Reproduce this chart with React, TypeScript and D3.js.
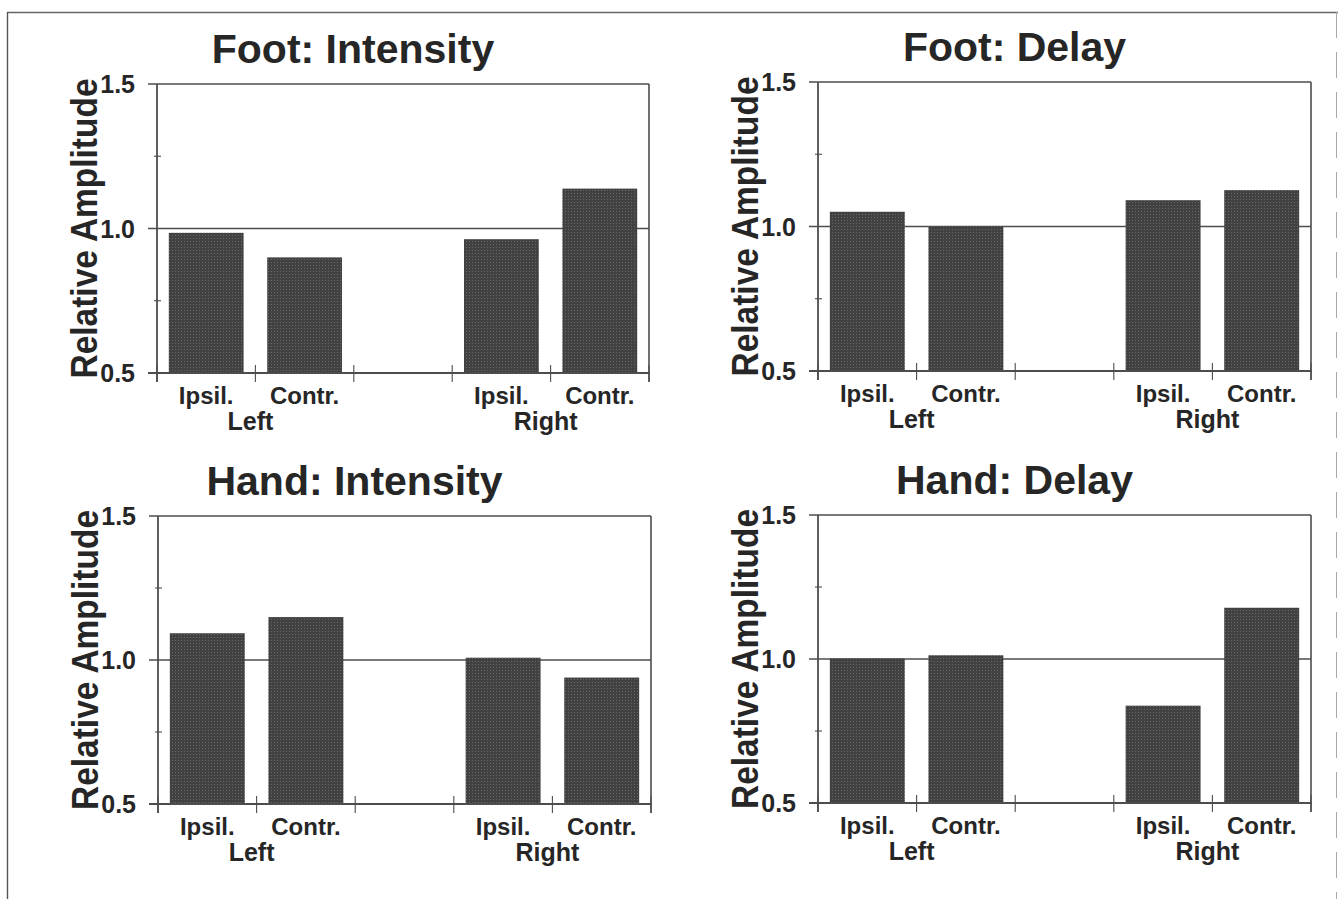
import React from "react";
import * as d3 from "d3";

// Bar groups: two sides, each with ipsilateral / contralateral stimulation
const sides = ["Left", "Right"];
const conditions = ["Ipsil.", "Contr."];
// Band slots: two bars, an empty spacer, two bars
const slots = ["L-Ipsil", "L-Contr", "gap", "R-Ipsil", "R-Contr"];
const barSlots = ["L-Ipsil", "L-Contr", "R-Ipsil", "R-Contr"];

const panelTitles = ["Foot: Intensity", "Foot: Delay", "Hand: Intensity", "Hand: Delay"];

// Relative amplitude per bar (Left Ipsil, Left Contr, Right Ipsil, Right Contr)
const footIntensity = [0.985, 0.9, 0.963, 1.138];
const footDelay = [1.051, 1.0, 1.091, 1.126];
const handIntensity = [1.093, 1.149, 1.008, 0.939];
const handDelay = [1.002, 1.013, 0.838, 1.178];

const yDomain = [0.5, 1.5];
const yMajorTicks = [0.5, 1.0, 1.5];
const yMinorTicks = [0.75, 1.25];
const referenceLevel = 1.0;
const yAxisLabel = "Relative Amplitude";

const panelValues = [footIntensity, footDelay, handIntensity, handDelay];

// Plot frames (left, right, top, bottom) for the 2x2 grid
const frames = [
  { x0: 157, x1: 649, y0: 84, y1: 373 },
  { x0: 818, x1: 1311, y0: 82, y1: 371 },
  { x0: 158, x1: 651, y0: 516, y1: 804 },
  { x0: 818, x1: 1311, y0: 515, y1: 803 },
];

const FONT = "'Liberation Sans', Arial, Helvetica, sans-serif";
const INK = "#262626";
const AXIS = "#4d4d4d";

function Panel({ title, values, frame }) {
  const { x0, x1, y0, y1 } = frame;
  const x = d3
    .scaleBand()
    .domain(slots)
    .range([x0, x1])
    .paddingInner(0.24)
    .paddingOuter(0.12);
  const y = d3.scaleLinear().domain(yDomain).range([y1, y0]);
  const step = x.step();
  const boundaries = d3.range(slots.length + 1).map((i) => x0 + i * step);
  const cx = (x0 + x1) / 2;
  const cy = (y0 + y1) / 2;

  return (
    <g>
      <text
        x={cx - 50}
        y={y0 - 21.5}
        textAnchor="middle"
        fontFamily={FONT}
        fontWeight="bold"
        fontSize={41}
        fill={INK}
      >
        {title}
      </text>

      {/* reference line at 1.0, extending over the tick mark */}
      <line x1={x0 - 9} x2={x1} y1={y(referenceLevel)} y2={y(referenceLevel)} stroke={AXIS} strokeWidth={1.6} />

      {values.map((v, i) => (
        <rect
          key={barSlots[i]}
          x={x(barSlots[i])}
          width={x.bandwidth()}
          y={y(v)}
          height={y(yDomain[0]) - y(v)}
          fill="url(#halftone)"
        />
      ))}

      {/* plot frame */}
      <line x1={x0 - 9} x2={x1} y1={y0} y2={y0} stroke={AXIS} strokeWidth={1.6} />
      <line x1={x0 - 9} x2={x1 + 1} y1={y1} y2={y1} stroke={AXIS} strokeWidth={1.8} />
      <line x1={x0} x2={x0} y1={y0} y2={y1 + 9} stroke={AXIS} strokeWidth={1.8} />
      <line x1={x1} x2={x1} y1={y0} y2={y1 + 9} stroke={AXIS} strokeWidth={1.6} />

      {/* category boundary ticks */}
      {boundaries.map((bx, i) => (
        <line key={"b" + i} x1={bx} x2={bx} y1={y1 - 8} y2={y1 + 9} stroke={AXIS} strokeWidth={1.1} />
      ))}

      {/* minor y ticks */}
      {yMinorTicks.map((t) => (
        <line key={"m" + t} x1={x0 - 3} x2={x0 + 4} y1={y(t)} y2={y(t)} stroke={AXIS} strokeWidth={1.1} />
      ))}

      {/* y tick labels */}
      {yMajorTicks.map((t) => (
        <text
          key={"t" + t}
          x={x0 - 22}
          y={y(t)}
          dy="0.36em"
          textAnchor="end"
          fontFamily={FONT}
          fontWeight="bold"
          fontSize={25}
          fill={INK}
        >
          {d3.format(".1f")(t)}
        </text>
      ))}

      {/* y axis title */}
      <text
        transform={`translate(${x0 - 60},${cy}) rotate(-90)`}
        textAnchor="middle"
        fontFamily={FONT}
        fontWeight="bold"
        fontSize={37}
        textLength={300}
        lengthAdjust="spacingAndGlyphs"
        fill={INK}
      >
        {yAxisLabel}
      </text>

      {/* bar labels */}
      {barSlots.map((s, i) => (
        <text
          key={"c" + s}
          x={(x(s) as number) + x.bandwidth() / 2}
          y={y1 + 31}
          textAnchor="middle"
          fontFamily={FONT}
          fontWeight="bold"
          fontSize={24}
          fill={INK}
        >
          {conditions[i % 2]}
        </text>
      ))}

      {/* side labels */}
      {sides.map((side, i) => (
        <text
          key={side}
          x={boundaries[i === 0 ? 1 : 4] - 5}
          y={y1 + 57}
          textAnchor="middle"
          fontFamily={FONT}
          fontWeight="bold"
          fontSize={25}
          fill={INK}
        >
          {side}
        </text>
      ))}
    </g>
  );
}

export default function App() {
  return (
    <svg
      width={1338}
      height={899}
      viewBox="0 0 1338 899"
      style={{ position: "absolute", left: 0, top: 0, background: "#fff" }}
    >
      <defs>
        <pattern id="halftone" width={3} height={3} patternUnits="userSpaceOnUse">
          <rect width={3} height={3} fill="#414141" />
          <rect x={1} y={1} width={1} height={1} fill="#6a6a6a" />
        </pattern>
      </defs>
      <rect width={1338} height={899} fill="#fff" />

      {/* page border */}
      <line x1={7} x2={1338} y1={12.5} y2={12.5} stroke="#666" strokeWidth={1.4} />
      <line x1={7.5} x2={7.5} y1={12} y2={899} stroke="#555" strokeWidth={1.4} />
      <line x1={1336.5} x2={1336.5} y1={12} y2={899} stroke="#aaa" strokeWidth={1} strokeDasharray="26 14" />

      {panelTitles.map((t, i) => (
        <Panel key={t} title={t} values={panelValues[i]} frame={frames[i]} />
      ))}
    </svg>
  );
}
